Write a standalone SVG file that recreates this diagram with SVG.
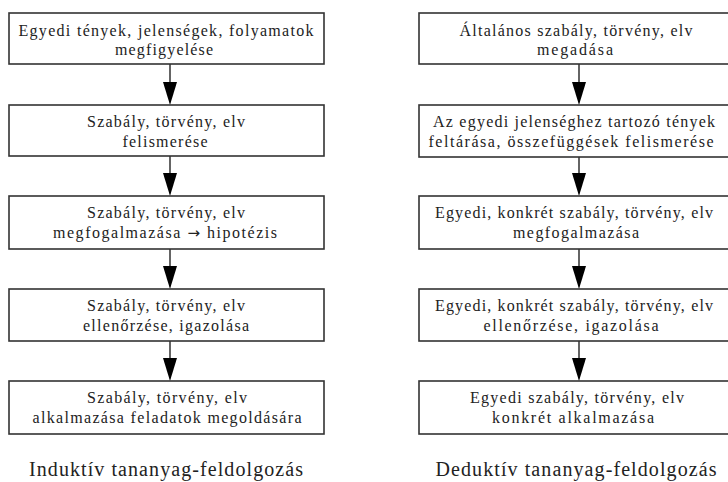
<svg xmlns="http://www.w3.org/2000/svg" width="728" height="482" viewBox="0 0 728 482">
<defs>
<style>
.box{fill:#fff;stroke:#333;stroke-width:1.6}
.t{font-family:"Liberation Serif","Times New Roman",serif;font-size:16px;fill:#222;text-anchor:middle}
.ttl{font-family:"Liberation Serif","Times New Roman",serif;font-size:20px;fill:#222;text-anchor:middle}
.ar{font-family:"DejaVu Sans",sans-serif;font-size:15px}
.ln{stroke:#111;stroke-width:1.3;fill:none}
.hd{fill:#000}
</style>
</defs>
<rect width="728" height="482" fill="#fff"/>
<g id="connectors">
<line class="ln" x1="170" y1="64" x2="170" y2="90"/><polygon class="hd" points="163,82 177,82 170,105"/>
<line class="ln" x1="170" y1="156" x2="170" y2="180"/><polygon class="hd" points="163,173 177,173 170,196"/>
<line class="ln" x1="170" y1="249" x2="170" y2="272"/><polygon class="hd" points="163,266 177,266 170,289"/>
<line class="ln" x1="170" y1="341" x2="170" y2="365"/><polygon class="hd" points="163,358 177,358 170,381"/>
<line class="ln" x1="579" y1="64" x2="579" y2="90"/><polygon class="hd" points="572,82 586,82 579,105"/>
<line class="ln" x1="579" y1="157" x2="579" y2="180"/><polygon class="hd" points="572,173 586,173 579,196"/>
<line class="ln" x1="579" y1="249" x2="579" y2="272"/><polygon class="hd" points="572,266 586,266 579,289"/>
<line class="ln" x1="579" y1="341" x2="579" y2="365"/><polygon class="hd" points="572,358 586,358 579,381"/>
</g>
<g id="L1"><rect class="box" x="9" y="13" width="315" height="51"/>
<text class="t" x="166" y="36" textLength="295" lengthAdjust="spacing">Egyedi tények, jelenségek, folyamatok</text>
<text class="t" x="164" y="55" textLength="98" lengthAdjust="spacing">megfigyelése</text></g>
<g id="L2"><rect class="box" x="9" y="105" width="315" height="51"/>
<text class="t" x="166" y="127" textLength="158" lengthAdjust="spacing">Szabály, törvény, elv</text>
<text class="t" x="165" y="147" textLength="85" lengthAdjust="spacing">felismerése</text></g>
<g id="L3"><rect class="box" x="9" y="196" width="315" height="53"/>
<text class="t" x="166" y="218" textLength="158" lengthAdjust="spacing">Szabály, törvény, elv</text>
<text class="t" x="165" y="238" textLength="224" lengthAdjust="spacing">megfogalmazása <tspan class="ar">→</tspan> hipotézis</text></g>
<g id="L4"><rect class="box" x="9" y="289" width="315" height="52"/>
<text class="t" x="166" y="311" textLength="158" lengthAdjust="spacing">Szabály, törvény, elv</text>
<text class="t" x="166" y="331" textLength="166" lengthAdjust="spacing">ellenőrzése, igazolása</text></g>
<g id="L5"><rect class="box" x="9" y="381" width="315" height="53"/>
<text class="t" x="167" y="403" textLength="160" lengthAdjust="spacing">Szabály, törvény, elv</text>
<text class="t" x="167" y="423" textLength="269" lengthAdjust="spacing">alkalmazása feladatok megoldására</text></g>
<g id="R1"><rect class="box" x="419" y="13" width="318" height="51"/>
<text class="t" x="576" y="36" textLength="233" lengthAdjust="spacing">Általános szabály, törvény, elv</text>
<text class="t" x="575" y="55" textLength="76" lengthAdjust="spacing">megadása</text></g>
<g id="R2"><rect class="box" x="419" y="105" width="318" height="52"/>
<text class="t" x="574" y="127" textLength="282" lengthAdjust="spacing">Az egyedi jelenséghez tartozó tények</text>
<text class="t" x="571" y="147" textLength="285" lengthAdjust="spacing">feltárása, összefüggések felismerése</text></g>
<g id="R3"><rect class="box" x="419" y="196" width="318" height="53"/>
<text class="t" x="574" y="218" textLength="278" lengthAdjust="spacing">Egyedi, konkrét szabály, törvény, elv</text>
<text class="t" x="576" y="238" textLength="126" lengthAdjust="spacing">megfogalmazása</text></g>
<g id="R4"><rect class="box" x="419" y="289" width="318" height="52"/>
<text class="t" x="574" y="311" textLength="278" lengthAdjust="spacing">Egyedi, konkrét szabály, törvény, elv</text>
<text class="t" x="571" y="331" textLength="175" lengthAdjust="spacing">ellenőrzése, igazolása</text></g>
<g id="R5"><rect class="box" x="419" y="381" width="318" height="53"/>
<text class="t" x="577" y="403" textLength="214" lengthAdjust="spacing">Egyedi szabály, törvény, elv</text>
<text class="t" x="573" y="423" textLength="162" lengthAdjust="spacing">konkrét alkalmazása</text></g>
<g id="titles">
<text class="ttl" x="166" y="476" textLength="274" lengthAdjust="spacing">Induktív tananyag-feldolgozás</text>
<text class="ttl" x="576" y="476" textLength="281" lengthAdjust="spacing">Deduktív tananyag-feldolgozás</text>
</g>
</svg>
